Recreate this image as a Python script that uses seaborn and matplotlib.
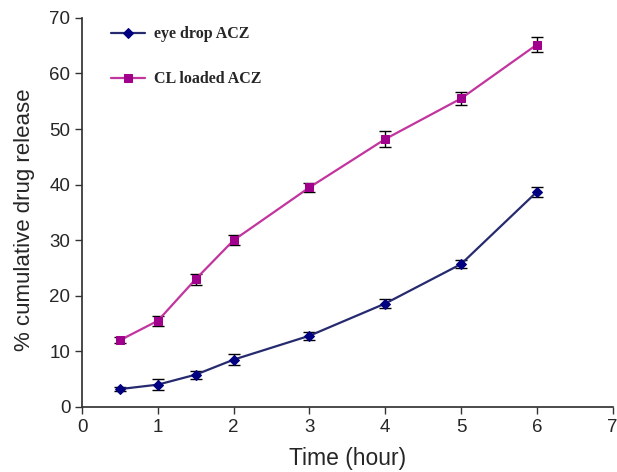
import matplotlib
matplotlib.use("Agg")
import matplotlib.pyplot as plt
from matplotlib.colors import same_color
import pandas as pd
import seaborn as sns

# values
time_h = [0.5, 1, 1.5, 2, 3, 4, 5, 6]
eye_drop = [3.2, 4.0, 5.8, 8.5, 12.8, 18.6, 25.7, 38.7]
eye_drop_err = [0.3, 1.0, 0.7, 1.0, 0.7, 0.8, 0.7, 0.9]
cl_loaded = [12.0, 15.5, 23.0, 30.0, 39.5, 48.2, 55.5, 65.2]
cl_loaded_err = [0.5, 0.9, 1.0, 0.9, 0.8, 1.5, 1.2, 1.3]

df = pd.DataFrame({
    "Time": time_h * 2,
    "Release": eye_drop + cl_loaded,
    "Formulation": ["eye drop ACZ"] * len(time_h) + ["CL loaded ACZ"] * len(time_h),
})

sns.set_theme(style="ticks")
plt.rcParams["font.family"] = ["Liberation Sans", "DejaVu Sans"]

fig = plt.figure(figsize=(6.17, 4.72), dpi=100)
ax = fig.add_axes([0.133, 0.138, 0.86, 0.824])

# error bars first so the markers sit on top
ax.errorbar(time_h, eye_drop, yerr=eye_drop_err, fmt="none", ecolor="black",
            elinewidth=1, capsize=4, capthick=1, zorder=2)
ax.errorbar(time_h, cl_loaded, yerr=cl_loaded_err, fmt="none", ecolor="black",
            elinewidth=1, capsize=4, capthick=1, zorder=2)

line_cols = {"eye drop ACZ": "#262a6e", "CL loaded ACZ": "#c2349e"}
marker_cols = {"eye drop ACZ": "#000080", "CL loaded ACZ": "#a0008c"}
sns.lineplot(data=df, x="Time", y="Release", hue="Formulation", style="Formulation",
             palette=line_cols, markers={"eye drop ACZ": "D", "CL loaded ACZ": "s"},
             dashes=False, linewidth=1.6, markersize=5.5, ax=ax, zorder=3)

handles, labels = ax.get_legend_handles_labels()


def recolor_markers(lines):
    for ln in lines:
        for name, c in line_cols.items():
            if same_color(ln.get_color(), c):
                ln.set_markerfacecolor(marker_cols[name])
                ln.set_markeredgecolor(marker_cols[name])


recolor_markers(ax.lines)
recolor_markers(handles)

ax.set_xlim(0, 7)
ax.set_ylim(0, 70)
ax.set_xticks(range(0, 8))
ax.set_yticks(range(0, 71, 10))
ax.tick_params(labelsize=13.5, length=5, width=1, color="#333333")
ax.set_xlabel("Time (hour)", fontsize=16.5, labelpad=8)
ax.set_ylabel("% cumulative drug release", fontsize=16)
ax.yaxis.set_label_coords(-0.088, 0.48)
for side in ["top", "right"]:
    ax.spines[side].set_visible(False)
for side in ["left", "bottom"]:
    ax.spines[side].set_color("#333333")

ax.legend(handles, labels, loc="upper left", bbox_to_anchor=(0.028, 1.015),
          frameon=False, handlelength=2.1, labelspacing=1.8, handletextpad=0.6,
          prop={"family": "Liberation Serif", "weight": "bold", "size": 11.5})

fig.savefig("out.png", dpi=100)
